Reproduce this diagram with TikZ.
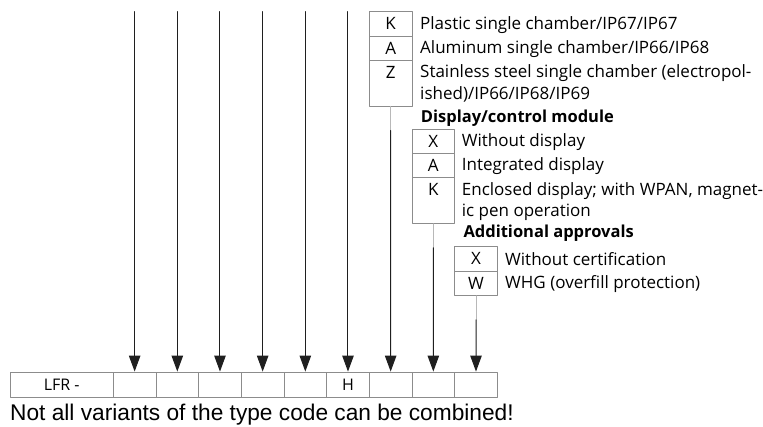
\documentclass[tikz,border=0pt]{standalone}
\usepackage{fontspec}
\setmainfont{Open Sans}
\newfontfamily\notefont{Liberation Sans}
\usetikzlibrary{arrows.meta}
\definecolor{boxgray}{gray}{0.55}
\definecolor{stubgray}{gray}{0.72}
\definecolor{leadgray}{gray}{0.12}
\tikzset{
	cell/.style={draw=boxgray,line width=0.9pt,minimum width=42.67pt,minimum height=25.7pt,inner sep=0pt,text height=11pt,text depth=0pt,font=\fontsize{16}{19}\selectfont},
	optrow/.style={draw=boxgray,line width=0.9pt,minimum width=42.67pt,minimum height=24.3pt,inner sep=0pt,text height=12pt,text depth=0pt,font=\fontsize{17}{20}\selectfont},
	tallrow/.style={optrow,minimum height=45.7pt,text depth=21.5pt},
	desc/.style={anchor=west,inner sep=0pt,text height=12pt,text depth=0pt,font=\fontsize{17}{20}\selectfont},
	head/.style={desc,font=\fontsize{16.5}{20}\selectfont\bfseries},
	note/.style={anchor=west,inner sep=0pt,text height=16.3pt,text depth=0pt,font=\notefont\fontsize{22.7}{27}\selectfont},
	lead/.style={draw=leadgray,line width=1pt,->},
	stub/.style={draw=stubgray,line width=1pt},
}
\begin{document}
\begin{tikzpicture}[line cap=round,line join=round,>={Triangle[length=16pt,width=11.5pt]},x=1pt,y=-1pt]
	\useasboundingbox (0,0) rectangle (763,426);
	\node[cell,minimum width=103.3pt] (lfr) at (61.65,384.85) {LFR -};
	\foreach \t [count=\i] in {{},{},{},{},{},H,{},{},{}}
		\node[cell] (c\i) at ({91.97+42.67*\i},384.85) {\t};
	\foreach \i in {1,...,6} {
		\coordinate (t\i) at ({91.97+42.67*\i},11.7);
		\draw[lead] (t\i) -- (c\i.north);
	}
	\node[optrow] (kazK) at (390.66,23.85) {K};
	\node[optrow] (kazA) at (390.66,48.15) {A};
	\node[tallrow] (kazZ) at (390.66,83.15) {Z};
	\node[desc] (dK) at (420,23) {Plastic single chamber/IP67/IP67};
	\node[desc] (dA) at (420,47.5) {Aluminum single chamber/IP66/IP68};
	\node[desc] (dZ) at (420,71.5) {Stainless steel single chamber (electropol-};
	\node[desc] (dZb) at (420,93) {ished)/IP66/IP68/IP69};
	\node[head] (hDisp) at (420.7,116.7) {Display/control module};
	\node[optrow] (dispX) at (433.33,141.15) {X};
	\node[optrow] (dispA) at (433.33,165.45) {A};
	\node[tallrow] (dispK) at (433.33,200.45) {K};
	\node[desc] (dX) at (461.7,140) {Without display};
	\node[desc] (dAi) at (461.7,164.5) {Integrated display};
	\node[desc] (dKe) at (461.7,189) {Enclosed display; with WPAN, magnet-};
	\node[desc] (dKb) at (461.7,210.5) {ic pen operation};
	\node[head] (hAppr) at (463.3,231.7) {Additional approvals};
	\node[optrow] (apprX) at (476,258.85) {X};
	\node[optrow] (apprW) at (476,283.15) {W};
	\node[desc] (dXc) at (505,259) {Without certification};
	\node[desc] (dW) at (505,282.5) {WHG (overfill protection)};
	\draw[stub] (kazZ.south) -- ++(0,24) coordinate (s7);
	\draw[lead] (s7) -- (c7.north);
	\draw[stub] (dispK.south) -- ++(0,24) coordinate (s8);
	\draw[lead] (s8) -- (c8.north);
	\draw[stub] (apprW.south) -- ++(0,24) coordinate (s9);
	\draw[lead] (s9) -- (c9.north);
	\node[note] (note) at (10,412.7) {Not all variants of the type code can be combined!};
\end{tikzpicture}
\end{document}
